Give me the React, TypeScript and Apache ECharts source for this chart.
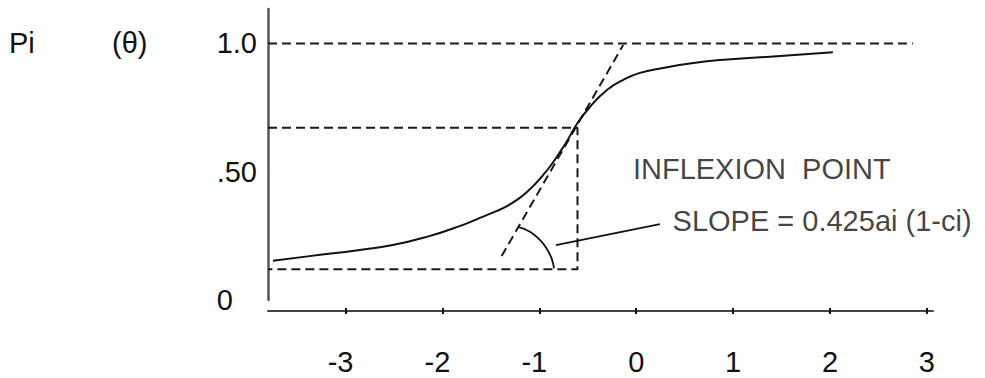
import React, { useEffect, useRef } from "react";
import * as echarts from "echarts";

// ---- data ----
const xTicks = [-3, -2, -1, 0, 1, 2, 3];
const yTickValues = [0, 0.5, 1.0];
const yTickLabels = ["0", ".50", "1.0"];

// item characteristic curve
const curveX = [-3.749, -3.37, -2.854, -2.513, -2.162, -1.822, -1.613, -1.438, -1.334, -1.231, -1.128, -1.045, -0.963, -0.88, -0.798, -0.715, -0.612, -0.478, -0.302, -0.137, 0.038, 0.276, 0.554, 0.864, 1.38, 2.03];
const curveY = [0.153, 0.171, 0.195, 0.214, 0.246, 0.288, 0.32, 0.347, 0.366, 0.39, 0.421, 0.451, 0.486, 0.525, 0.57, 0.619, 0.686, 0.752, 0.818, 0.857, 0.885, 0.904, 0.922, 0.935, 0.948, 0.965];

// reference (dashed) lines
const upperAsymptote = 1.0;
const upperLineEndX = 2.855;
const inflexionX = -0.606;
const inflexionY = 0.671;
const lowerY = 0.12;

// tangent at inflexion point
const tangentX = [-1.389, -0.134];
const tangentY = [0.171, 0.994];

// angle arc
const arcX = [-1.218, -1.097, -0.994, -0.925, -0.873, -0.849];
const arcY = [0.285, 0.266, 0.234, 0.201, 0.162, 0.123];

// leader line to slope note
const leaderX = [-0.829, 0.245];
const leaderY = [0.214, 0.296];

// annotations
const noteInflexion = { x: -0.034, y: 0.511, text: "INFLEXION  POINT" };
const noteSlope = { x: 0.375, y: 0.308, text: "SLOPE = 0.425ai (1-ci)" };

const xMin = -3.8;
const xMax = 3.063;
const yMin = 0;
const yMax = 1.134;

const FONT = "'Liberation Sans', Arial, Helvetica, sans-serif";
const FS = 29;
const INK = "#111";

const zip = (xs: number[], ys: number[]) => xs.map((x, i) => [x, ys[i]]);

export default function App() {
  const ref = useRef<HTMLDivElement>(null);
  useEffect(() => {
    if (!ref.current) return;
    const chart = echarts.init(ref.current, undefined, { renderer: "svg" });
    const dashed = { color: "#1a1a1a", width: 2, type: [9, 5] as any };
    const common = {
      type: "line" as const,
      showSymbol: false,
      symbol: "none",
      silent: true,
      animation: false,
    };
    chart.setOption({
      animation: false,
      backgroundColor: "#fff",
      grid: { left: 268, right: 52, top: 9, bottom: 78 },
      xAxis: [
        {
          type: "value",
          min: xMin,
          max: xMax,
          position: "bottom",
          offset: 11,
          axisLine: { show: true, onZero: false, lineStyle: { color: "#444", width: 2 } },
          axisTick: {
            show: true,
            customValues: xTicks,
            length: 3,
            lineStyle: { color: "#111", width: 2 },
          },
          splitLine: { show: false },
          axisLabel: {
            customValues: xTicks,
            margin: 36,
            fontSize: FS,
            fontFamily: FONT,
            color: INK,
            formatter: (v: number) => (v < 0 ? "{n|" + v + "}" : "{p|" + v + "}"),
            rich: {
              n: { fontSize: FS, fontFamily: FONT, color: INK, padding: [0, 10, 0, 0] },
              p: { fontSize: FS, fontFamily: FONT, color: INK },
            },
          },
        },
        {
          type: "value",
          min: xMin,
          max: xMax,
          position: "bottom",
          offset: 11,
          axisLine: { show: false, onZero: false },
          axisTick: {
            show: true,
            inside: true,
            customValues: xTicks,
            length: 3,
            lineStyle: { color: "#111", width: 2 },
          },
          axisLabel: { show: false },
          splitLine: { show: false },
        },
      ],
      yAxis: {
        type: "value",
        min: yMin,
        max: yMax,
        axisLine: { show: true, onZero: false, lineStyle: { color: "#555", width: 2.5 } },
        axisTick: { show: false },
        splitLine: { show: false },
        axisLabel: {
          customValues: yTickValues,
          margin: 11,
          fontSize: FS,
          fontFamily: FONT,
          color: INK,
          formatter: (v: number) => {
            const i = yTickValues.findIndex((t) => Math.abs(t - v) < 1e-6);
            const s = i >= 0 ? yTickLabels[i] : "";
            return v === 0 ? "{z|" + s + "}" : "{p|" + s + "}";
          },
          rich: {
            z: { fontSize: FS, fontFamily: FONT, color: INK, padding: [0, 24, 0, 0] },
            p: { fontSize: FS, fontFamily: FONT, color: INK },
          },
        },
      },
      graphic: [
        {
          type: "text",
          x: 9,
          y: 43,
          style: { text: "Pi", fontSize: FS, fontFamily: FONT, fill: INK, verticalAlign: "middle" },
        },
        {
          type: "text",
          x: 112,
          y: 43,
          style: { text: "(θ)", fontSize: FS, fontFamily: FONT, fill: INK, verticalAlign: "middle" },
        },
      ],
      series: [
        {
          ...common,
          data: [
            [xMin, upperAsymptote],
            [upperLineEndX, upperAsymptote],
          ],
          lineStyle: dashed,
        },
        {
          ...common,
          data: [
            [xMin, inflexionY],
            [inflexionX, inflexionY],
            [inflexionX, lowerY],
            [xMin, lowerY],
          ],
          lineStyle: dashed,
        },
        {
          ...common,
          data: zip(tangentX, tangentY),
          lineStyle: dashed,
        },
        {
          ...common,
          data: zip(curveX, curveY),
          smooth: 0.5,
          lineStyle: { color: "#111", width: 2 },
        },
        {
          ...common,
          data: zip(arcX, arcY),
          smooth: 0.5,
          lineStyle: { color: "#111", width: 1.8 },
        },
        {
          ...common,
          data: zip(leaderX, leaderY),
          lineStyle: { color: "#111", width: 1.8 },
        },
        {
          type: "scatter",
          silent: true,
          symbolSize: 0,
          data: [
            { value: [noteInflexion.x, noteInflexion.y], name: noteInflexion.text },
            { value: [noteSlope.x, noteSlope.y], name: noteSlope.text },
          ],
          label: {
            show: true,
            position: "right",
            distance: 0,
            formatter: (p: any) => p.name,
            fontSize: FS,
            fontFamily: FONT,
            color: INK,
          },
        },
      ],
    });
    return () => chart.dispose();
  }, []);
  return (
    <div
      ref={ref}
      style={{ position: "absolute", left: 0, top: 0, width: 985, height: 378, background: "#fff" }}
    />
  );
}
